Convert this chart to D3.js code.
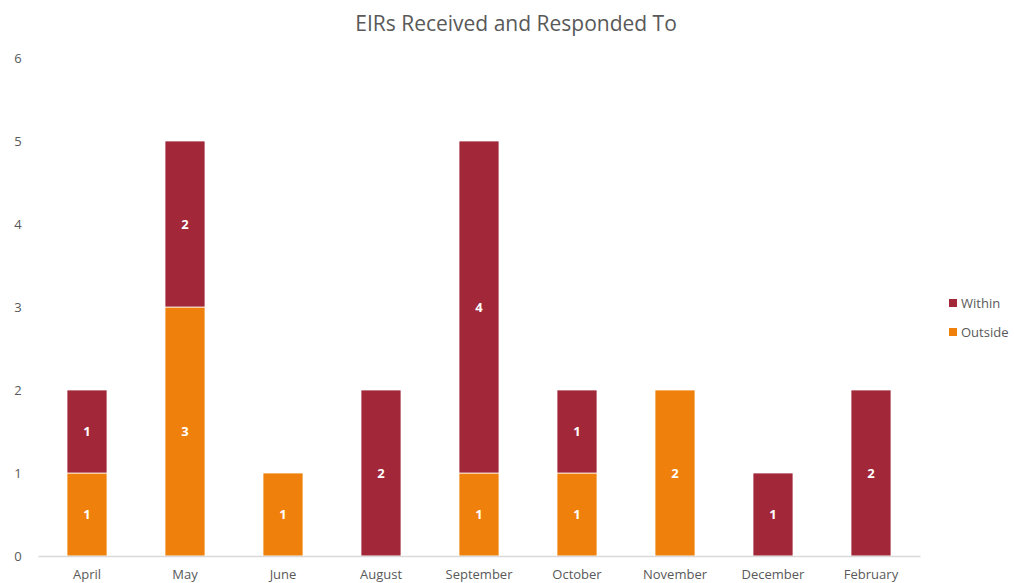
<!DOCTYPE html>
<html>
<head>
<meta charset="utf-8">
<script src="https://cdn.jsdelivr.net/npm/d3@7"></script>
<style>
  body { margin: 0; background: #fff; }
  text { font-family: "Open Sans", sans-serif; fill: #595959; }
</style>
</head>
<body>
<div id="chart"></div>
<script>
// data
const months = ["April","May","June","August","September","October","November","December","February"]
const within = [1, 2, 0, 2, 4, 1, 0, 1, 2]
const outside = [1, 3, 1, 0, 1, 1, 2, 0, 0]
const seriesNames = ["Outside", "Within"]
const yTicks = [0, 1, 2, 3, 4, 5, 6]

const colors = { Within: "#A12739", Outside: "#F0800C" }

const dims = { width: 1014, height: 583, margin: { top: 58, right: 94, bottom: 27, left: 38 } }
dims.boundedWidth = dims.width - dims.margin.left - dims.margin.right
dims.boundedHeight = dims.height - dims.margin.top - dims.margin.bottom

const svg = d3.select("#chart").append("svg")
    .attr("width", dims.width)
    .attr("height", dims.height)

const bounds = svg.append("g")
    .attr("transform", `translate(${dims.margin.left},${dims.margin.top})`)

const rows = months.map((m, i) => ({ month: m, Within: within[i], Outside: outside[i] }))
const stacked = d3.stack().keys(seriesNames)(rows)

const xScale = d3.scaleBand()
    .domain(months)
    .range([0, dims.boundedWidth])
    .paddingInner(0.592)
    .paddingOuter(0.296)

const yScale = d3.scaleLinear()
    .domain([0, 6])
    .range([dims.boundedHeight, 0])

// y labels (no axis line)
bounds.append("g")
    .selectAll("text")
    .data(yTicks)
    .join("text")
    .attr("x", -20)
    .attr("y", d => yScale(d))
    .attr("dy", "0.35em")
    .attr("text-anchor", "middle")
    .style("font-size", "13px")
    .text(d => d)

// bars
bounds.selectAll(".series")
    .data(stacked)
    .join("g")
    .attr("fill", d => colors[d.key])
    .selectAll("rect")
    .data(d => d)
    .join("rect")
    .attr("x", d => xScale(d.data.month))
    .attr("y", d => yScale(d[1]))
    .attr("width", xScale.bandwidth())
    .attr("height", d => yScale(d[0]) - yScale(d[1]))
    .attr("stroke", "#fff")
    .attr("stroke-width", 0.75)

// data labels
bounds.selectAll(".series-label")
    .data(stacked)
    .join("g")
    .selectAll("text")
    .data(d => d.filter(v => v[1] - v[0] > 0))
    .join("text")
    .attr("x", d => xScale(d.data.month) + xScale.bandwidth() / 2)
    .attr("y", d => (yScale(d[0]) + yScale(d[1])) / 2)
    .attr("dy", "0.35em")
    .attr("text-anchor", "middle")
    .style("fill", "#fff")
    .style("font-size", "13px")
    .style("font-weight", "bold")
    .text(d => d[1] - d[0])

// x axis
const xAxis = bounds.append("g")
    .attr("transform", `translate(0,${dims.boundedHeight})`)
    .call(d3.axisBottom(xScale).tickSize(0).tickPadding(14))
xAxis.select(".domain").attr("stroke", "#d9d9d9").attr("stroke-width", 1.3)
xAxis.selectAll("text")
    .style("font-family", "Open Sans, sans-serif")
    .style("font-size", "13px")
    .style("fill", "#595959")

// title
svg.append("text")
    .attr("x", 516)
    .attr("y", 31)
    .attr("text-anchor", "middle")
    .style("font-size", "21px")
    .text("EIRs Received and Responded To")

// legend
const legend = svg.append("g")
    .attr("transform", "translate(949,303)")
const legendItems = legend.selectAll("g")
    .data(["Within", "Outside"])
    .join("g")
    .attr("transform", (d, i) => `translate(0,${i * 29})`)
legendItems.append("rect")
    .attr("x", 0)
    .attr("y", -4)
    .attr("width", 8)
    .attr("height", 8)
    .attr("fill", d => colors[d])
legendItems.append("text")
    .attr("x", 12)
    .attr("dy", "0.35em")
    .style("font-size", "13px")
    .text(d => d)
</script>
</body>
</html>
